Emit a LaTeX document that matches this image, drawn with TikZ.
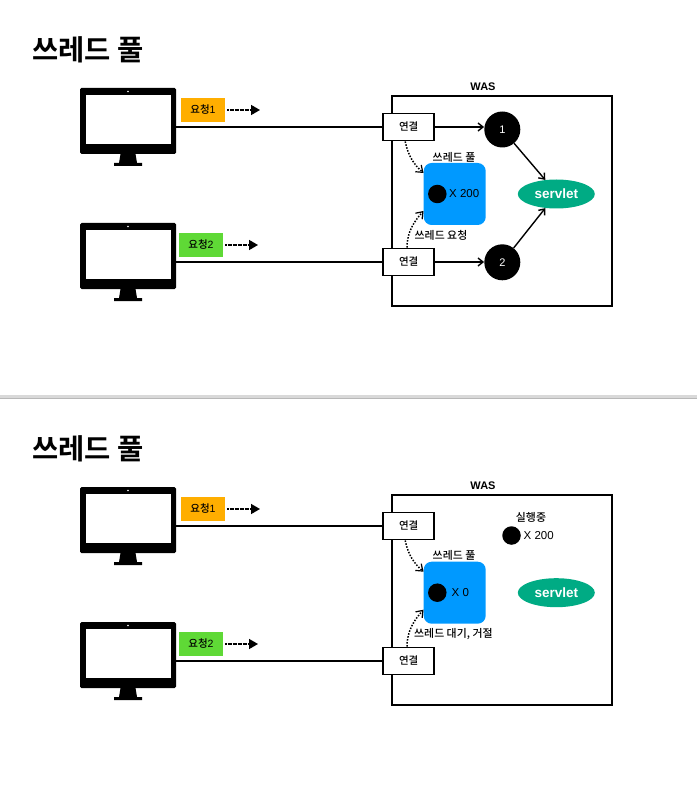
\documentclass[tikz,border=0pt]{standalone}
\usepackage{fontspec}
\setmainfont{Liberation Sans}
\newfontfamily\ko{Noto Sans CJK KR Medium}[BoldFont={Noto Sans CJK KR Bold}]
\usetikzlibrary{arrows.meta,shapes.geometric}
\definecolor{poolblue}{HTML}{0099FF}
\definecolor{servgreen}{HTML}{00AB84}
\definecolor{reqorange}{HTML}{FFAE00}
\definecolor{reqgreen}{HTML}{5FD936}
\tikzset{
  x=1pt,y=-1pt,
  title/.style={font=\ko\fontsize{28.5}{29}\selectfont\bfseries,anchor=west,inner sep=0},
  conn/.style={draw=black,line width=1.9pt,fill=white,minimum width=51pt,minimum height=27pt,inner sep=0,font=\ko\fontsize{10.5}{12}\selectfont},
  wasbox/.style={draw=black,line width=1.7pt,minimum width=220pt,minimum height=210pt,inner sep=0},
  wastext/.style={font=\fontsize{11}{12}\selectfont\bfseries,inner sep=0},
  small/.style={font=\ko\fontsize{10.9}{12}\selectfont,inner sep=0},
  count/.style={font=\fontsize{11.5}{12}\selectfont,inner sep=0,text=black},
  pool/.style={fill=poolblue,rounded corners=8pt,minimum width=62pt,minimum height=62pt,inner sep=0},
  bdot/.style={circle,fill=black,minimum size=18.5pt,inner sep=0},
  num/.style={circle,fill=black,text=white,minimum size=36pt,inner sep=0,font=\fontsize{11}{12}\selectfont},
  serv/.style={ellipse,fill=servgreen,text=white,minimum width=77pt,minimum height=29pt,inner sep=0,font=\fontsize{13.5}{14}\selectfont\bfseries},
  req/.style={minimum width=44pt,minimum height=24pt,inner sep=0,font=\ko\fontsize{10.5}{12}\selectfont},
  link/.style={line width=1.4pt},
  flow/.style={line width=1.4pt,-{Straight Barb[length=5pt,width=8pt]}},
  dots/.style={line width=1.5pt,dash pattern=on 1.5pt off 1.5pt,-{Straight Barb[length=6pt,width=9pt,line width=1.2pt]}},
  reqarrow/.style={line width=1.5pt,dash pattern=on 2pt off 0.5pt,-{Triangle[length=9pt,width=10pt]}},
  mon/.style={fill=black,rounded corners=1.5pt,minimum width=96pt,minimum height=66pt,inner sep=0},
  monscreen/.style={fill=white,minimum width=85pt,minimum height=48.6pt,inner sep=0},
}
% #1 name, #2 centre x, #3 centre y of the monitor body
\newcommand{\monitorat}[3]{%
  \fill (#2-7.5,#3+33) -- (#2+7.5,#3+33) -- (#2+9,#3+42) -- (#2+14,#3+42) -- (#2+14,#3+45) -- (#2-14,#3+45) -- (#2-14,#3+42) -- (#2-9,#3+42) -- cycle;
  \node[mon] (#1) at (#2,#3) {};
  \node[monscreen] (#1s) at (#2,#3-1.7) {};
  \fill[white] (#2,#3-29.5) circle (0.9);
}
\begin{document}
\begin{tikzpicture}
\useasboundingbox (0,0) rectangle (697,791);
\fill[white] (0,0) rectangle (697,791);
% separator
\fill[black!15] (0,395) rectangle (697,397.6);
\fill[black!28] (0,397.6) rectangle (697,398.6);
% ---------- top ----------
\node[title] (t1) at (32,50) {쓰레드 풀};
\monitorat{m1}{128}{121}
\monitorat{m2}{128}{256}
\node[req,fill=reqorange] (r1) at (203,110) {\ko 요청\rmfamily 1};
\node[req,fill=reqgreen] (r2) at (201,245) {\ko 요청\rmfamily 2};
\coordinate (r1e) at (260,110);
\coordinate (r2e) at (258,245);
\draw[reqarrow] (r1.east)++(2,0) -- (r1e);
\draw[reqarrow] (r2.east)++(2,0) -- (r2e);
\node[wasbox] (was1) at (502,201) {};
\node[wastext] (w1) at (483,87) {WAS};
\node[conn] (c1) at (408.7,127) {연결};
\node[conn] (c2) at (408.7,262) {연결};
\draw[link] (c1.west -| m1.east) -- (c1.west);
\draw[link] (c2.west -| m2.east) -- (c2.west);
\node[pool] (p1) at (454.7,194) {};
\node[small] (p1t) at (454,157) {쓰레드 풀};
\node[bdot] (d1) at (437.3,194) {};
\node[count,anchor=west] (x1) at (449,194) {X 200};
\node[small,anchor=west] (q1) at (414.5,235) {쓰레드 요청};
\node[num] (n1) at (502.3,129.5) {1};
\node[num] (n2) at (502.3,262.3) {2};
\node[serv] (s1) at (556.3,194) {servlet};
\draw[flow] (c1.east) -- (c1.east -| n1.west);
\draw[flow] (c2.east) -- (c2.east -| n2.west);
\draw[flow] (n1) -- (s1.128);
\draw[flow] (n2) -- (s1.232);
\draw[dots] ([xshift=-3.5pt]c1.south) .. controls +(3,15) and +(-9,-8) .. ([yshift=21pt]p1.west);
\draw[dots] ([xshift=-1.7pt]c2.north) .. controls +(0,-16) and +(-9,10) .. ([yshift=-17pt]p1.west);
% ---------- bottom ----------
\node[title] (t2) at (32,449) {쓰레드 풀};
\monitorat{m3}{128}{520}
\monitorat{m4}{128}{655}
\node[req,fill=reqorange] (r3) at (203,509) {\ko 요청\rmfamily 1};
\node[req,fill=reqgreen] (r4) at (201,644) {\ko 요청\rmfamily 2};
\coordinate (r3e) at (260,509);
\coordinate (r4e) at (258,644);
\draw[reqarrow] (r3.east)++(2,0) -- (r3e);
\draw[reqarrow] (r4.east)++(2,0) -- (r4e);
\node[wasbox] (was2) at (502,599.7) {};
\node[wastext] (w2) at (483,485.5) {WAS};
\node[conn] (c3) at (408.7,526) {연결};
\node[conn] (c4) at (408.7,661) {연결};
\draw[link] (c3.west -| m3.east) -- (c3.west);
\draw[link] (c4.west -| m4.east) -- (c4.west);
\node[pool] (p2) at (454.7,592.7) {};
\node[small] (p2t) at (454,555.5) {쓰레드 풀};
\node[bdot] (d2) at (437.3,592.7) {};
\node[count,anchor=west] (x2) at (451.5,592.7) {X 0};
\node[small,anchor=west] (q2) at (414,634) {쓰레드 대기, 거절};
\node[small] (run) at (531,517.5) {실행중};
\node[bdot] (d3) at (511.5,535.5) {};
\node[count,anchor=west] (x3) at (523.5,536) {X 200};
\node[serv] (s2) at (556.3,592.7) {servlet};
\draw[dots] ([xshift=-3.5pt]c3.south) .. controls +(3,15) and +(-9,-8) .. ([yshift=21pt]p2.west);
\draw[dots] ([xshift=-1.7pt]c4.north) .. controls +(0,-16) and +(-9,10) .. ([yshift=-17pt]p2.west);
\end{tikzpicture}
\end{document}
